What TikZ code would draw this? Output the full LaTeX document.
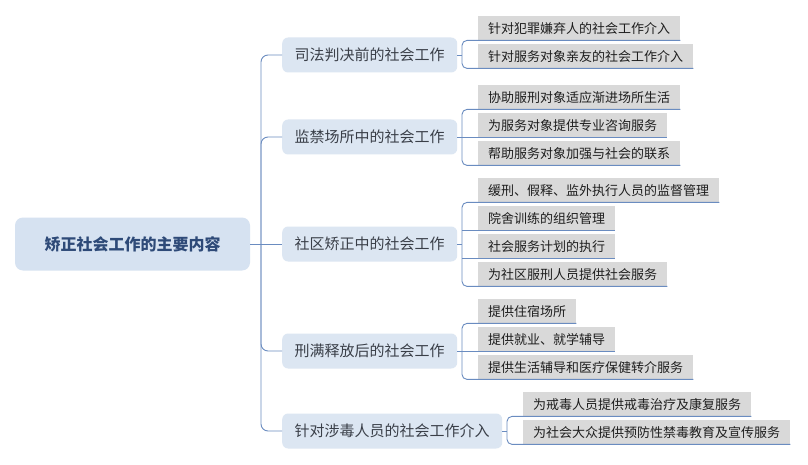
\documentclass[tikz,border=0pt]{standalone}
\usepackage{fontspec}
\newfontfamily\cjk{Noto Sans CJK SC}
\definecolor{linec}{HTML}{6A8CC0}
\definecolor{lonefill}{HTML}{DCE6F2}
\definecolor{rootfill}{HTML}{D6E2F1}
\definecolor{roottext}{HTML}{2E4A78}
\definecolor{lonetext}{HTML}{3A3F48}
\definecolor{ltwofill}{HTML}{D9D9D9}
\definecolor{ltwotext}{HTML}{1E1E1E}
\tikzset{
  conn/.style={draw=linec, line width=0.9pt},
  rootbox/.style={fill=rootfill, rounded corners=8pt, minimum width=235pt, minimum height=53pt,
    inner sep=0pt, text=roottext, font=\cjk\bfseries\fontsize{16}{16}\selectfont},
  lonebox/.style={fill=lonefill, rounded corners=6pt, minimum height=35pt, inner sep=0pt,
    anchor=west, text=lonetext, font=\cjk\fontsize{15}{15}\selectfont},
  ltwobox/.style={fill=ltwofill, minimum height=24pt, inner xsep=10pt, inner ysep=0pt,
    anchor=north west, text=ltwotext, font=\cjk\fontsize{13}{13}\selectfont}
}
\begin{document}
\begin{tikzpicture}[x=1pt,y=-1pt]
\useasboundingbox (0,0) rectangle (808,465);
\fill[white] (0,0) rectangle (808,465);

% root
\node[rootbox] (root) at (132.5,244) {矫正社会工作的主要内容};
\coordinate (hub) at (261,244);

% level 1
\node[lonebox, minimum width=175pt] (L1) at (282,55) {司法判决前的社会工作};
\node[lonebox, minimum width=175pt] (L2) at (282,137) {监禁场所中的社会工作};
\node[lonebox, minimum width=175pt] (L3) at (282,244) {社区矫正中的社会工作};
\node[lonebox, minimum width=175pt] (L4) at (282,351) {刑满释放后的社会工作};
\node[lonebox, minimum width=220pt] (L5) at (282,431) {针对涉毒人员的社会工作介入};

% level 2
\node[ltwobox] (a1) at (478,16) {针对犯罪嫌弃人的社会工作介入};
\node[ltwobox] (a2) at (478,44) {针对服务对象亲友的社会工作介入};

\node[ltwobox] (b1) at (478,85) {协助服刑对象适应渐进场所生活};
\node[ltwobox] (b2) at (478,113) {为服务对象提供专业咨询服务};
\node[ltwobox] (b3) at (478,141) {帮助服务对象加强与社会的联系};

\node[ltwobox] (c1) at (478,178) {缓刑、假释、监外执行人员的监督管理};
\node[ltwobox] (c2) at (478,206) {院舍训练的组织管理};
\node[ltwobox] (c3) at (478,234) {社会服务计划的执行};
\node[ltwobox] (c4) at (478,262) {为社区服刑人员提供社会服务};

\node[ltwobox] (d1) at (478,299) {提供住宿场所};
\node[ltwobox] (d2) at (478,327) {提供就业、就学辅导};
\node[ltwobox] (d3) at (478,355) {提供生活辅导和医疗保健转介服务};

\node[ltwobox] (e1) at (523,392) {为戒毒人员提供戒毒治疗及康复服务};
\node[ltwobox] (e2) at (523,420) {为社会大众提供预防性禁毒教育及宣传服务};

% root to level 1
\draw[conn] (root.east) -- (hub);
\draw[conn, rounded corners=7pt] (hub) -- (hub |- L1.west) -- (L1.west);
\draw[conn, rounded corners=7pt] (hub) -- (hub |- L2.west) -- (L2.west);
\draw[conn] (hub) -- (L3.west);
\draw[conn, rounded corners=7pt] (hub) -- (hub |- L4.west) -- (L4.west);
\draw[conn, rounded corners=7pt] (hub) -- (hub |- L5.west) -- (L5.west);

% brackets
\coordinate (k1) at (462,55);
\coordinate (k2) at (462,137);
\coordinate (k3) at (462,244);
\coordinate (k4) at (462,351);
\coordinate (k5) at (507,431);

\draw[conn] (L1.east) -- (k1);
\draw[conn, rounded corners=5pt] (a1.south east) -- (a1.south west -| k1) -- (a2.south west -| k1) -- (a2.south east);

\draw[conn] (L2.east) -- (k2);
\draw[conn, rounded corners=5pt] (b1.south east) -- (b1.south west -| k2) -- (b3.south west -| k2) -- (b3.south east);
\draw[conn] (b2.south west -| k2) -- (b2.south east);

\draw[conn] (L3.east) -- (k3);
\draw[conn, rounded corners=5pt] (c1.south east) -- (c1.south west -| k3) -- (c4.south west -| k3) -- (c4.south east);
\draw[conn] (c2.south west -| k3) -- (c2.south east);
\draw[conn] (c3.south west -| k3) -- (c3.south east);

\draw[conn] (L4.east) -- (k4);
\draw[conn, rounded corners=5pt] (d1.south east) -- (d1.south west -| k4) -- (d3.south west -| k4) -- (d3.south east);
\draw[conn] (d2.south west -| k4) -- (d2.south east);

\draw[conn] (L5.east) -- (k5);
\draw[conn, rounded corners=5pt] (e1.south east) -- (e1.south west -| k5) -- (e2.south west -| k5) -- (e2.south east);
\end{tikzpicture}
\end{document}
